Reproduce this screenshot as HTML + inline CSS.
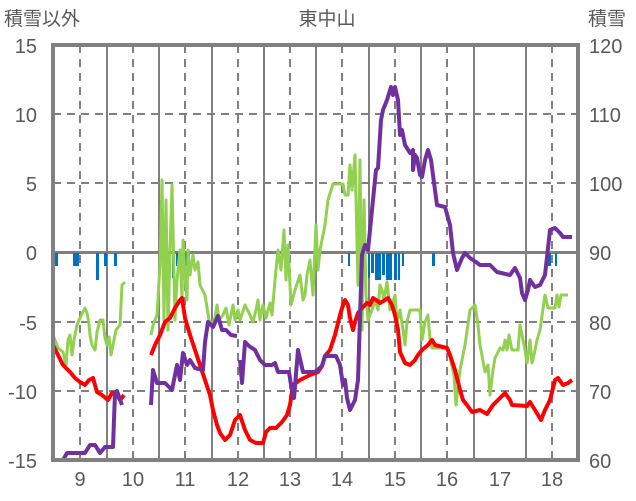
<!DOCTYPE html>
<html><head><meta charset="utf-8"><style>
html,body{margin:0;padding:0;background:#fff;}
svg{display:block;}
text{font-family:"Liberation Sans","Noto Sans CJK JP",sans-serif;fill:#595959;}
</style></head><body>
<svg width="636" height="501" viewBox="0 0 636 501" xmlns="http://www.w3.org/2000/svg">
<rect width="636" height="501" fill="#fff"/>
<g stroke="#808080" stroke-width="2">
<line x1="107" y1="45" x2="107" y2="460"/><line x1="159" y1="45" x2="159" y2="460"/><line x1="212" y1="45" x2="212" y2="460"/><line x1="264" y1="45" x2="264" y2="460"/><line x1="316" y1="45" x2="316" y2="460"/><line x1="369" y1="45" x2="369" y2="460"/><line x1="421" y1="45" x2="421" y2="460"/><line x1="474" y1="45" x2="474" y2="460"/><line x1="526" y1="45" x2="526" y2="460"/>
</g>
<g stroke="#808080" stroke-width="2" stroke-dasharray="8,6">
<line x1="80" y1="45" x2="80" y2="460"/><line x1="133" y1="45" x2="133" y2="460"/><line x1="185" y1="45" x2="185" y2="460"/><line x1="238" y1="45" x2="238" y2="460"/><line x1="290" y1="45" x2="290" y2="460"/><line x1="342" y1="45" x2="342" y2="460"/><line x1="395" y1="45" x2="395" y2="460"/><line x1="447" y1="45" x2="447" y2="460"/><line x1="552" y1="45" x2="552" y2="460"/>
<line x1="53" y1="114" x2="578" y2="114"/><line x1="53" y1="183" x2="578" y2="183"/><line x1="53" y1="322" x2="578" y2="322"/><line x1="53" y1="391" x2="578" y2="391"/>
</g>
<line x1="53" y1="252.5" x2="578" y2="252.5" stroke="#808080" stroke-width="3"/>
<g fill="#0070c0">
<rect x="55" y="253" width="3" height="13"/><rect x="73" y="253" width="6" height="13"/><rect x="96" y="253" width="3" height="27"/><rect x="104" y="253" width="3" height="13"/><rect x="114" y="253" width="3" height="13"/>
<rect x="172" y="253" width="3" height="25"/><rect x="176" y="253" width="14" height="13"/>
<rect x="348" y="253" width="2" height="13"/><rect x="368" y="253" width="2" height="25"/><rect x="371" y="253" width="3" height="20"/><rect x="375" y="253" width="6" height="27"/><rect x="382" y="253" width="3" height="22"/><rect x="386" y="253" width="6" height="27"/><rect x="394" y="253" width="3" height="27"/><rect x="398" y="253" width="2" height="27"/><rect x="402" y="253" width="2" height="13"/><rect x="432" y="253" width="3" height="13"/><rect x="548" y="253" width="3" height="13"/><rect x="555" y="253" width="2" height="13"/>
</g>
<g fill="none" stroke="#92d050" stroke-width="3" stroke-linejoin="round">
<polyline points="53,335 58,348 63,352 66,365 68,340 70,335 72,355 74,340 77,325 81,316 85,308 87,313 89,324 90,335 92,345 95,350 97,332 100,320 103,320 105,338 107,345 109,337 111,355 113,345 116,330 120,325 122,285 125,282"/>
<polyline points="151,335 153,325 157,315 160,265 162,180 164,320 165,250 166,200 168,330 170,250 172,185 175,320 177,280 180,250 182,300 183,240 185,275 187,300 188,250 190,275 193,255 195,270 198,262 200,285 205,295 209,320 212,325 215,318 217,305 219,320 223,315 226,308 229,325 233,305 235,320 238,310 240,320 245,305 250,315 253,322 256,310 258,300 260,320 263,305 266,318 270,303 272,315 275,280 278,250 281,270 284,230 286,280 288,245 291,305 295,290 300,275 303,300 305,295 307,275 310,260 313,295 316,225 318,270 320,250 322,240 325,225 328,200 333,184 343,184 345,195 348,195 350,165 352,190 355,155 358,285 360,160 362,330 364,200 366,295 368,320 372,310 375,300 378,310 380,285 382,290 384,300 387,282 390,310 392,305 395,295 397,322 400,310 403,330 405,345 407,322 410,310 420,310 422,340 425,322 428,315 430,340 432,348 448,348 454,375 456,405 460,370 465,345 470,310 475,305 478,325 480,345 485,372 488,365 490,395 493,370 495,358 500,348 503,350 505,340 507,350 509,335 512,350 518,350 520,325 522,335 525,350 527,363 530,340 532,363 534,355 537,340 540,330 545,295 548,308 555,308 557,295 559,307 561,295 568,295"/>
</g>
<g fill="none" stroke="#ff0000" stroke-width="4" stroke-linejoin="round">
<polyline points="53,345 58,355 63,365 70,372 75,378 80,382 85,385 89,380 93,378 97,392 102,395 108,400 112,393 116,393 120,400 124,395"/>
<polyline points="151,355 155,345 160,335 165,322 170,318 175,308 180,300 182,298 185,318 190,335 195,350 200,365 205,380 210,395 213,410 217,425 220,433 225,440 230,435 235,420 240,415 245,430 250,440 256,443 263,443 266,432 270,428 276,428 282,422 287,415 290,405 293,385 300,380 310,375 318,372 322,366 325,356 330,350 335,335 340,315 343,305 345,300 348,305 350,318 353,330 355,322 358,313 362,308 367,303 370,305 373,298 376,300 380,303 385,300 388,298 392,305 395,315 398,330 400,352 405,363 410,365 415,360 418,355 422,350 428,345 432,340 435,345 447,348 450,355 455,370 460,390 463,400 467,405 472,412 480,410 487,414 493,405 500,398 505,393 510,400 512,405 527,406 530,402 535,410 538,415 541,420 545,410 550,400 555,380 558,378 563,385 568,383 572,380"/>
</g>
<g fill="none" stroke="#7030a0" stroke-width="4" stroke-linejoin="round">
<polyline points="53,460 63,460 67,453 85,453 90,445 95,445 100,453 105,447 113,447 115,393 117,391 122,405"/>
<polyline points="151,405 153,370 157,383 165,383 172,390 177,365 180,380 183,353 187,365 190,360 195,368 203,370 205,342 208,322 213,327 218,316 222,330 226,330 231,335 237,336"/>
<polyline points="240,360 242,383 245,342 249,346 255,350 260,360 265,365 272,365 275,363 278,372 289,372 291,385 294,398 298,350 303,372 315,372 322,366 325,356 336,356 340,365 343,385 345,380 347,398 350,410 355,400 358,380 362,255 365,245 368,250 372,210 376,170 378,168 381,120 383,110 387,100 391,87 393,95 395,87 398,100 400,135 402,130 405,145 410,153 413,150 413,170 415,155 417,158 420,175 422,177 425,160 428,150 431,160 437,205 445,207 450,225 453,253 457,270 462,258 465,253 470,258 476,262 480,265 490,265 497,272 510,275 515,268 520,278 522,293 525,300 528,290 530,280 535,287 540,285 545,275 550,230 555,228 560,233 563,237 572,237"/>
</g>
<rect x="53" y="45" width="525" height="415" fill="none" stroke="#808080" stroke-width="4"/>
<g font-size="19">
<text x="4" y="25">積雪以外</text>
<text x="327" y="25" text-anchor="middle">東中山</text>
<text x="588" y="25">積雪</text>
</g>
<g font-size="20" text-anchor="end">
<text x="37" y="53">15</text><text x="37" y="122">10</text><text x="37" y="191">5</text><text x="37" y="260">0</text><text x="37" y="330">-5</text><text x="37" y="399">-10</text><text x="37" y="468">-15</text>
</g>
<g font-size="20">
<text x="589" y="53">120</text><text x="589" y="122">110</text><text x="589" y="191">100</text><text x="589" y="260">90</text><text x="589" y="330">80</text><text x="589" y="399">70</text><text x="589" y="468">60</text>
</g>
<g font-size="20" text-anchor="middle">
<text x="80" y="486">9</text><text x="133" y="486">10</text><text x="185" y="486">11</text><text x="238" y="486">12</text><text x="290" y="486">13</text><text x="342" y="486">14</text><text x="395" y="486">15</text><text x="447" y="486">16</text><text x="500" y="486">17</text><text x="552" y="486">18</text>
</g>
</svg>
</body></html>
